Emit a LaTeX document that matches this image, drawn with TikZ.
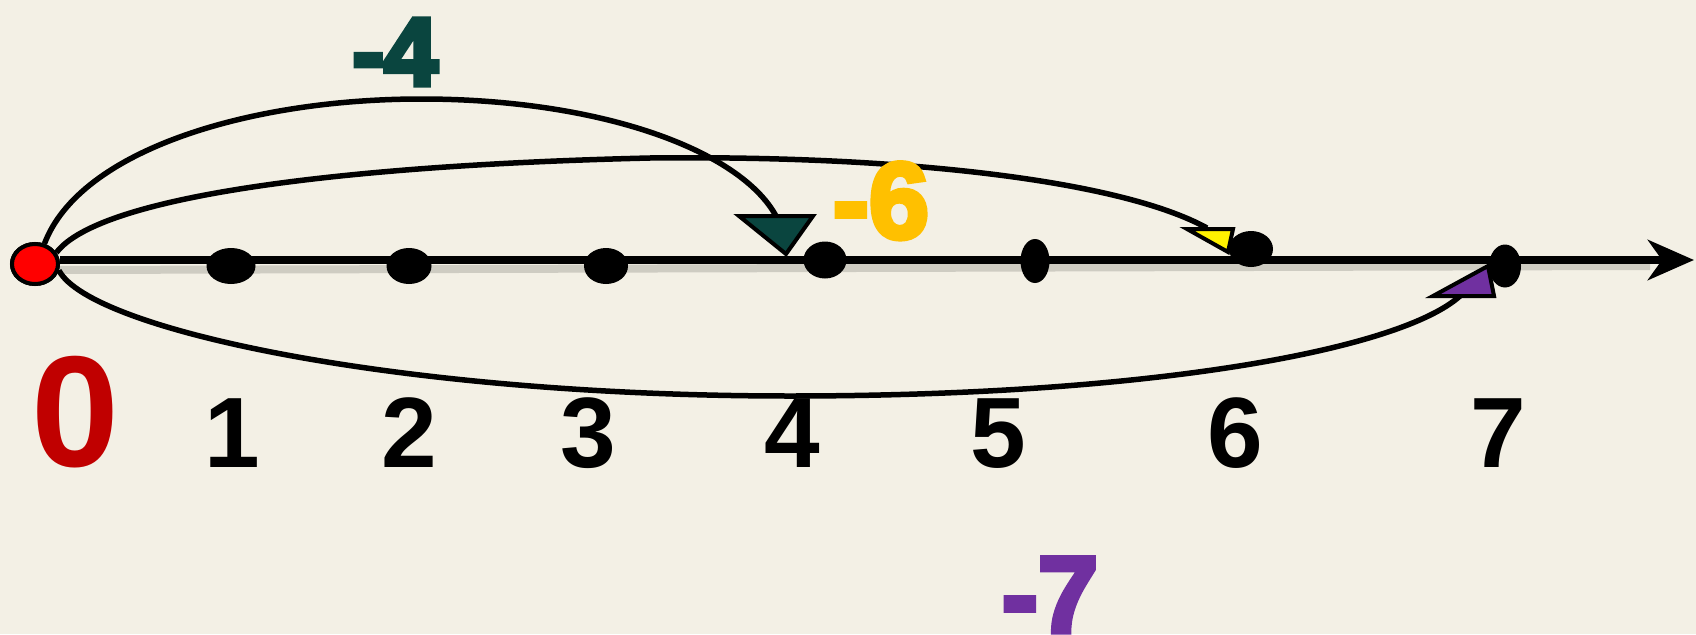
\documentclass[tikz,border=0pt]{standalone}
\usepackage{fontspec}
\setmainfont{Liberation Sans}
\newfontfamily\heavy{Liberation Sans Bold}
\newcommand{\fatter}[1]{\special{pdf:literal direct 2 Tr 5 w}#1\special{pdf:literal direct 0 Tr}}
\usetikzlibrary{arrows.meta,shapes.geometric}
\definecolor{bg}{RGB}{243,240,229}
\definecolor{teal4}{RGB}{10,69,63}
\definecolor{gold6}{RGB}{255,192,0}
\definecolor{purp7}{RGB}{112,48,160}
\definecolor{red0}{RGB}{192,0,0}
\tikzset{
  dotnode/.style={ellipse,fill=black,inner sep=0pt},
  startdot/.style={ellipse,fill=red,draw=black,line width=4pt,minimum width=46pt,minimum height=40pt,inner sep=0pt},
  numlabel/.style={anchor=base,inner sep=0pt,font=\bfseries\fontsize{100}{100}\selectfont},
  neglabel/.style={anchor=base,inner sep=0pt,font=\heavy\fontsize{108}{108}\selectfont},
  jump/.style={line width=5.5pt},
  headtri/.style={draw=black,line width=4pt,line join=miter},
  axisline/.style={line width=8pt,-{Stealth[length=46pt,width=40pt,inset=14pt]}}
}
\begin{document}
\begin{tikzpicture}[x=1pt,y=-1pt]
\useasboundingbox (0,0) rectangle (1696,634);
\fill[bg] (0,0) rectangle (1696,634);
% red start point
\node[startdot] (z) at (35,264) {};
\coordinate (axend) at (1694,260);
% axis shadow and axis
\draw[line width=8pt,black,opacity=0.15] ([yshift=-6pt]z.east) -- ([yshift=-6pt]1650,260);
\draw[axisline] (z.east |- 0,260) -- (axend);
% dots
\node[dotnode,minimum width=49pt,minimum height=36pt] (d1) at (231,266) {};
\node[dotnode,minimum width=45pt,minimum height=36pt] (d2) at (409,266) {};
\node[dotnode,minimum width=44pt,minimum height=36pt] (d3) at (606,266) {};
\node[dotnode,minimum width=43pt,minimum height=37pt] (d4) at (825,260) {};
\node[dotnode,minimum width=29pt,minimum height=44pt] (d5) at (1035,261) {};
\node[dotnode,minimum width=44pt,minimum height=36pt] (d6) at (1251,249) {};
\node[dotnode,minimum width=32pt,minimum height=43pt] (d7) at (1505,266) {};
% arrow head base points
\coordinate (t4) at (776,216);
\coordinate (t6) at (1207,228);
\coordinate (t7) at (1460,296);
% jumps
\draw[jump] (z.65) .. controls (80,150) and (250,99) .. (421,99)
  .. controls (600,99) and (740,150) .. (t4);
\draw[jump] (z.28) .. controls (100,195) and (350,165) .. (650,158)
  .. controls (900,155) and (1120,180) .. (t6);
\draw[jump] (z.-15) .. controls (90,330) and (400,396) .. (790,396)
  .. controls (1150,396) and (1400,350) .. (t7);
% arrow heads
\draw[headtri,fill=teal4] (739,216) -- (813,216) -- (786,254) -- cycle;
\draw[headtri,fill=yellow] (1187,229) -- (1233,229) -- (1228,252) -- cycle;
\draw[headtri,fill=purp7] (1433,296) -- (1494,296) -- (1488,266) -- cycle;
% redraw start point on top
\node[startdot] at (z) {};
% number labels
\node[numlabel,text=red0,font=\bfseries\fontsize{158}{158}\selectfont] (l0) at (75,466) {0};
\node[numlabel] (l1) at (232,467) {1};
\node[numlabel] (l2) at (409,467) {2};
\node[numlabel] (l3) at (588,467) {3};
\node[numlabel] (l4) at (792,467) {4};
\node[numlabel] (l5) at (998,467) {5};
\node[numlabel] (l6) at (1235,467) {6};
\node[numlabel] (l7) at (1498,467) {7};
% jump labels
\node[neglabel,text=teal4,font=\heavy\fontsize{96}{96}\selectfont] (m4) at (395,85) {\fatter{-4}};
\node[neglabel,text=gold6] (m6) at (881,238) {\fatter{-6}};
\node[neglabel,text=purp7] (m7) at (1050,632) {\fatter{-7}};
\end{tikzpicture}
\end{document}
